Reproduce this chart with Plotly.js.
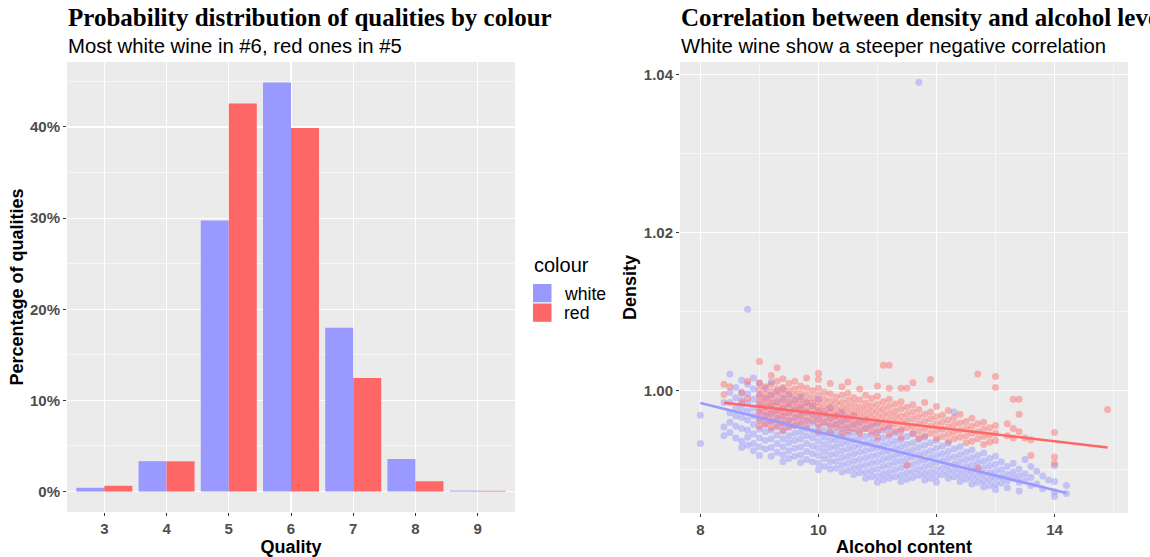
<!DOCTYPE html>
<html>
<head>
<meta charset="utf-8">
<script src="https://cdn.plot.ly/plotly-3.0.1.min.js"></script>
<style>
html,body{margin:0;padding:0;background:#fff;}
#chart{width:1150px;height:557px;}
</style>
</head>
<body>
<div id="chart"></div>
<script>
// ---------- Left panel: quality distribution (percent) ----------
const qualities = [3, 4, 5, 6, 7, 8, 9];
const whitePct  = [0.41, 3.33, 29.75, 44.88, 17.97, 3.57, 0.10];
const redPct    = [0.63, 3.31, 42.59, 39.90, 12.45, 1.13, 0.08];
const seriesNames = ['white', 'red'];
const legendTitle = 'colour';
const yTickVals = [0, 10, 20, 30, 40];
const yTickText = ['0%', '10%', '20%', '30%', '40%'];

// ---------- Right panel: alcohol vs density (read column by column) ----------
const whiteColAlcohol = [8.0, 8.4, 8.5, 8.6, 8.7, 8.8, 8.9, 9.0, 9.1, 9.2, 9.3, 9.4, 9.5, 9.6, 9.7, 9.8, 9.9,
  10.0, 10.1, 10.2, 10.3, 10.4, 10.5, 10.6, 10.7, 10.8, 10.9, 11.0, 11.1, 11.2, 11.3, 11.4, 11.5, 11.6, 11.7,
  11.8, 11.9, 12.0, 12.1, 12.2, 12.3, 12.4, 12.5, 12.6, 12.7, 12.8, 12.9, 13.0, 13.1, 13.2, 13.3, 13.4, 13.5,
  13.6, 13.7, 13.8, 13.9, 14.0, 14.2];
const whiteColDensity = [
  [.9969, .9933],
  [.9954, .9943, .9985],
  [1.0021, .9998, .9985, .9972, .9960, .9947],
  [1.0004, .9991, .9979, .9968, .9955, .9940],
  [1.0013, .9998, .9988, .9977, .9966, .9952, .9936, .9928],
  [1.0103, 1.0008, .9996, .9984, .9974, .9963, .9950, .9941, .9931],
  [1.0016, 1.0002, .9989, .9978, .9968, .9957, .9945, .9933, .9924],
  [1.0009, .9995, .9983, .9973, .9962, .9951, .9940, .9929, .9918],
  [1.0003, .9990, .9979, .9969, .9958, .9948, .9937, .9926],
  [1.0011, .9994, .9982, .9971, .9961, .9950, .9939, .9928, .9917],
  [.9999, .9986, .9975, .9965, .9954, .9944, .9933, .9922],
  [1.0002, .9990, .9978, .9968, .9958, .9949, .9939, .9929, .9919, .9910],
  [.9995, .9983, .9972, .9962, .9953, .9943, .9934, .9924, .9914],
  [.9988, .9976, .9966, .9956, .9946, .9937, .9927, .9917],
  [.9992, .9979, .9968, .9958, .9948, .9939, .9929, .9919, .9909],
  [.9985, .9973, .9962, .9952, .9943, .9933, .9923, .9913],
  [.9981, .9969, .9959, .9949, .9940, .9930, .9920, .9910],
  [.9989, .9975, .9964, .9954, .9945, .9936, .9927, .9918, .9908, .9900],
  [.9971, .9960, .9950, .9941, .9932, .9923, .9914, .9904],
  [.9978, .9965, .9955, .9946, .9937, .9928, .9919, .9910, .9901],
  [.9968, .9957, .9947, .9938, .9929, .9920, .9911, .9902],
  [.9973, .9961, .9951, .9942, .9933, .9924, .9915, .9906, .9897],
  [.9964, .9953, .9944, .9935, .9926, .9917, .9908, .9899],
  [.9968, .9957, .9947, .9938, .9929, .9920, .9911, .9902, .9894],
  [.9960, .9949, .9940, .9931, .9922, .9913, .9904, .9896],
  [.9963, .9952, .9942, .9933, .9924, .9915, .9906, .9897, .9889],
  [.9955, .9944, .9935, .9926, .9917, .9908, .9899, .9891],
  [.9958, .9947, .9937, .9928, .9919, .9910, .9901, .9892, .9884],
  [.9950, .9940, .9931, .9922, .9913, .9904, .9895, .9887],
  [.9953, .9942, .9933, .9924, .9915, .9906, .9897, .9889],
  [.9946, .9936, .9927, .9918, .9909, .9900, .9891],
  [.9949, .9938, .9929, .9920, .9911, .9902, .9893, .9885],
  [.9942, .9932, .9923, .9914, .9905, .9896, .9888],
  [.9945, .9934, .9925, .9916, .9907, .9898, .9890],
  [1.0390, .9938, .9928, .9919, .9910, .9901, .9893],
  [.9941, .9931, .9921, .9912, .9903, .9895, .9887],
  [.9934, .9924, .9915, .9906, .9897, .9889],
  [.9937, .9927, .9918, .9909, .9900, .9892, .9884],
  [.9930, .9920, .9911, .9902, .9894],
  [.9933, .9923, .9914, .9905, .9897, .9889],
  [.9973, .9926, .9916, .9907, .9899, .9891],
  [.9929, .9919, .9910, .9901, .9893, .9885],
  [.9922, .9913, .9904, .9896, .9888],
  [.9925, .9915, .9906, .9898, .9890, .9882],
  [.9918, .9909, .9900, .9892, .9884],
  [.9921, .9911, .9902, .9894, .9886, .9878],
  [.9914, .9905, .9896, .9888, .9880],
  [.9917, .9907, .9898, .9890, .9882, .9875],
  [.9910, .9900, .9891, .9883],
  [.9904, .9894, .9886, .9877],
  [.9908, .9897, .9889],
  [.9901, .9892, .9884, .9873],
  [.9913, .9895, .9886],
  [.9904, .9890, .9880],
  [.9898, .9882],
  [.9892, .9876],
  [.9887],
  [.9905, .9885, .9872, .9866],
  [.9880, .9870]
];

const redColAlcohol = [8.4, 8.5, 8.7, 8.8, 9.0, 9.1, 9.2, 9.3, 9.4, 9.5, 9.6, 9.7, 9.8, 9.9,
  10.0, 10.1, 10.2, 10.3, 10.4, 10.5, 10.6, 10.7, 10.8, 10.9, 11.0, 11.1, 11.2, 11.3, 11.4, 11.5,
  11.6, 11.7, 11.8, 11.9, 12.0, 12.1, 12.2, 12.3, 12.4, 12.5, 12.6, 12.7, 12.8, 12.9, 13.0, 13.2,
  13.3, 13.4, 13.5, 13.6, 14.0, 14.9];
const redColDensity = [
  [1.0008, .9995],
  [1.0005],
  [.9997, .9985],
  [1.0012, .9990],
  [1.0037, 1.0010, 1.0001, .9993, .9986, .9979, .9972, .9964, .9955],
  [1.0005, .9996, .9988, .9981, .9974, .9966, .9957],
  [1.0019, 1.0008, .9999, .9991, .9984, .9977, .9970, .9962, .9953],
  [1.0029, 1.0012, 1.0002, .9994, .9986, .9979, .9972, .9964, .9956],
  [1.0015, 1.0004, .9996, .9988, .9981, .9974, .9967, .9959, .9950],
  [1.0009, 1.0000, .9992, .9985, .9978, .9971, .9963, .9955],
  [1.0012, 1.0002, .9994, .9986, .9979, .9972, .9964, .9956],
  [1.0006, .9997, .9989, .9982, .9975, .9968, .9960],
  [1.0016, 1.0003, .9994, .9986, .9979, .9972, .9964, .9955],
  [1.0000, .9991, .9984, .9977, .9970, .9962],
  [1.0022, 1.0014, 1.0003, .9994, .9986, .9979, .9972, .9965, .9957, .9948],
  [.9998, .9989, .9981, .9974, .9967, .9959],
  [1.0009, .9996, .9987, .9979, .9972, .9965, .9957, .9948],
  [.9992, .9984, .9976, .9969, .9962, .9954],
  [1.0005, .9994, .9985, .9977, .9970, .9963, .9955, .9946],
  [1.0011, .9997, .9988, .9980, .9972, .9965, .9957, .9949],
  [.9991, .9983, .9975, .9968, .9960, .9952],
  [1.0002, .9988, .9979, .9971, .9963, .9955, .9946],
  [.9994, .9984, .9976, .9968, .9960, .9952],
  [.9990, .9981, .9973, .9965, .9957, .9948],
  [1.0006, .9993, .9983, .9975, .9967, .9959, .9950, .9941],
  [1.0032, .9986, .9977, .9969, .9961, .9953],
  [1.0032, 1.0003, .9989, .9980, .9971, .9963, .9955, .9945],
  [.9983, .9974, .9966, .9958, .9949],
  [1.0003, .9986, .9977, .9968, .9960, .9951, .9941],
  [1.0003, .9979, .9970, .9962, .9953, .9906],
  [1.0010, .9982, .9973, .9964, .9955, .9946],
  [.9976, .9967, .9958, .9949, .9940],
  [.9985, .9970, .9961, .9952, .9943],
  [1.0014, .9973, .9964, .9955, .9946],
  [.9980, .9967, .9958, .9949, .9940],
  [.9969, .9960, .9951, .9942],
  [.9975, .9963, .9954, .9945, .9936],
  [.9966, .9957, .9948, .9939],
  [.9970, .9959, .9950, .9941],
  [.9961, .9952, .9943, .9934],
  [.9965, .9955, .9946, .9936],
  [1.0021, .9958, .9948, .9939, .9902],
  [.9960, .9951, .9942, .9932],
  [.9953, .9944, .9935],
  [1.0018, 1.0004, .9956, .9946, .9937],
  [.9958, .9943],
  [.9989, .9952, .9940],
  [.9989, .9970, .9948],
  [.9940],
  [.9918, .9938],
  [.9947, .9916, .9908],
  [.9976]
];

// fitted lines (end points)
const whiteFitAlcohol = [8.0, 14.2];
const whiteFitDensity = [0.99844, 0.98705];
const redFitAlcohol = [8.4, 14.9];
const redFitDensity = [0.99848, 0.99282];

const WHITE = '#9999FF', RED = '#FF6666';

function flatten(cols, vals) {
  const xs = [], ys = [];
  cols.forEach((c, i) => vals[i].forEach(v => { xs.push(c); ys.push(v); }));
  return {xs, ys};
}
const wPts = flatten(whiteColAlcohol, whiteColDensity);
const rPts = flatten(redColAlcohol, redColDensity);

const W = 1150, H = 557;
const px = v => v / W;
const py = v => 1 - v / H;

const SANS = 'Liberation Sans, Arial, sans-serif';
const SERIF = 'Liberation Serif, Times New Roman, serif';
const tickFont = {family: SANS, size: 15, color: '#4D4D4D', weight: 'bold'};
const axTitleFont = {family: SANS, size: 18, color: '#000000', weight: 'bold'};
const common = {
  showline: false, zeroline: false, ticks: 'outside', ticklen: 3, tickwidth: 1, tickcolor: '#333333',
  gridcolor: '#FFFFFF', gridwidth: 1.1, tickfont: tickFont, fixedrange: true, automargin: false
};

const traces = [
  {type: 'bar', name: seriesNames[0], x: qualities, y: whitePct, marker: {color: WHITE}, xaxis: 'x', yaxis: 'y',
   offsetgroup: 'w', hoverinfo: 'skip', showlegend: false},
  {type: 'bar', name: seriesNames[1], x: qualities, y: redPct, marker: {color: RED}, xaxis: 'x', yaxis: 'y',
   offsetgroup: 'r', hoverinfo: 'skip', showlegend: false},
  {type: 'scatter', mode: 'markers', x: wPts.xs, y: wPts.ys, xaxis: 'x2', yaxis: 'y2', showlegend: false,
   marker: {color: WHITE, size: 7, opacity: 0.5, line: {width: 0}}, hoverinfo: 'skip'},
  {type: 'scatter', mode: 'markers', x: rPts.xs, y: rPts.ys, xaxis: 'x2', yaxis: 'y2', showlegend: false,
   marker: {color: RED, size: 7, opacity: 0.45, line: {width: 0}}, hoverinfo: 'skip'},
  {type: 'scatter', mode: 'lines', x: whiteFitAlcohol, y: whiteFitDensity, xaxis: 'x2', yaxis: 'y2', showlegend: false,
   line: {color: WHITE, width: 2.5}, hoverinfo: 'skip'},
  {type: 'scatter', mode: 'lines', x: redFitAlcohol, y: redFitDensity, xaxis: 'x2', yaxis: 'y2', showlegend: false,
   line: {color: RED, width: 2.5}, hoverinfo: 'skip'}
];

// legend keys (drawn in paper space)
const legendColors = [WHITE, RED];
const keyTop = [284, 303.5];
const shapes = legendColors.map((c, i) => ({
  type: 'rect', xref: 'paper', yref: 'paper', layer: 'above',
  x0: px(533), x1: px(551.5), y0: py(keyTop[i]), y1: py(keyTop[i] + 18.3),
  fillcolor: c, line: {width: 0}
}));

const annotations = [
  {text: 'Probability distribution of qualities by colour', xref: 'paper', yref: 'paper', x: px(66), y: py(18),
   xanchor: 'left', yanchor: 'middle', showarrow: false,
   font: {family: SERIF, size: 25, color: '#000', weight: 'bold'}},
  {text: 'Most white wine in #6, red ones in #5', xref: 'paper', yref: 'paper', x: px(66), y: py(46),
   xanchor: 'left', yanchor: 'middle', showarrow: false,
   font: {family: SANS, size: 20.3, color: '#000'}},
  {text: 'Correlation between density and alcohol levels', xref: 'paper', yref: 'paper', x: px(679), y: py(18),
   xanchor: 'left', yanchor: 'middle', showarrow: false,
   font: {family: SERIF, size: 25, color: '#000', weight: 'bold'}},
  {text: 'White wine show a steeper negative correlation', xref: 'paper', yref: 'paper', x: px(679), y: py(46),
   xanchor: 'left', yanchor: 'middle', showarrow: false,
   font: {family: SANS, size: 20.3, color: '#000'}},
  {text: legendTitle, xref: 'paper', yref: 'paper', x: px(532), y: py(265),
   xanchor: 'left', yanchor: 'middle', showarrow: false,
   font: {family: SANS, size: 20, color: '#000'}}
].concat(seriesNames.map((n, i) => ({
  text: n, xref: 'paper', yref: 'paper', x: px(562), y: py(keyTop[i] + 9.5),
  xanchor: 'left', yanchor: 'middle', showarrow: false,
  font: {family: SANS, size: 17.6, color: '#000'}
})));

const layout = {
  width: W, height: H,
  margin: {l: 0, r: 0, t: 0, b: 0},
  paper_bgcolor: '#FFFFFF', plot_bgcolor: '#EBEBEB',
  barmode: 'group', bargap: 0.1, bargroupgap: 0,
  showlegend: false,
  xaxis: Object.assign({}, common, {
    domain: [px(67), px(515)], anchor: 'y', range: [2.4, 9.6],
    tickmode: 'array', tickvals: qualities, ticktext: qualities.map(String),
    title: {text: 'Quality', font: axTitleFont, standoff: 3}
  }),
  yaxis: Object.assign({}, common, {
    domain: [py(512), py(62)], anchor: 'x', range: [-2.245, 47.13],
    tickmode: 'array', tickvals: yTickVals, ticktext: yTickText,
    minor: {tickmode: 'array', tickvals: [5, 15, 25, 35, 45], showgrid: true, gridcolor: '#FFFFFF', gridwidth: 0.55, ticks: ''},
    title: {text: 'Percentage of qualities', font: axTitleFont, standoff: 1}
  }),
  xaxis2: Object.assign({}, common, {
    domain: [px(680), px(1128)], anchor: 'y2', range: [7.655, 15.245],
    tickmode: 'array', tickvals: [8, 10, 12, 14], ticktext: ['8', '10', '12', '14'],
    minor: {tickmode: 'array', tickvals: [9, 11, 13, 15], showgrid: true, gridcolor: '#FFFFFF', gridwidth: 0.55, ticks: ''},
    title: {text: 'Alcohol content', font: axTitleFont, standoff: 3}
  }),
  yaxis2: Object.assign({}, common, {
    domain: [py(513), py(62)], anchor: 'x2', range: [0.98452, 1.04157],
    tickmode: 'array', tickvals: [1.00, 1.02, 1.04], ticktext: ['1.00', '1.02', '1.04'],
    minor: {tickmode: 'array', tickvals: [0.99, 1.01, 1.03], showgrid: true, gridcolor: '#FFFFFF', gridwidth: 0.55, ticks: ''},
    title: {text: 'Density', font: axTitleFont, standoff: 2}
  }),
  shapes: shapes,
  annotations: annotations
};

Plotly.newPlot('chart', traces, layout, {displayModeBar: false, staticPlot: true});
</script>
</body>
</html>
